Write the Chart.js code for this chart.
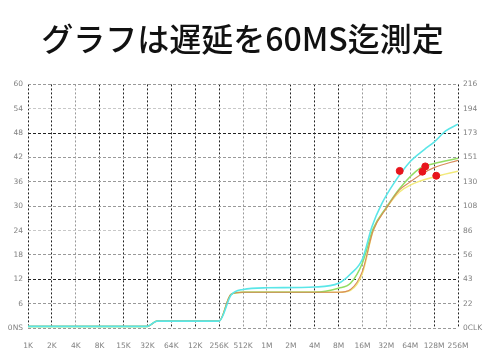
<!DOCTYPE html>
<html>
<head>
<meta charset="utf-8">
<script src="https://cdn.jsdelivr.net/npm/chart.js@4"></script>
<style>
  html, body { margin: 0; padding: 0; background: #fff; }
  #wrap { width: 485px; height: 362px; }
</style>
</head>
<body>
<div id="wrap"><canvas id="latencyChart" width="485" height="362"></canvas></div>
<script>
// x positions are log2 steps from 1K (0) to 256M (18)
const xLabels = ['1K','2K','4K','8K','15K','32K','64K','12K','256K','512K','1M','2M','4M','8M','16M','32M','64M','128M','256M'];
const leftLabels = ['0NS','6','12','18','24','30','36','42','48','54','60'];
const rightLabels = ['0CLK','22','43','56','86','108','130','151','173','194','216'];

const baseX = [0, 5, 5.4, 8];
const baseY = [0.4, 0.4, 1.7, 1.7];

const cyanX = [8.5, 9, 10, 12, 13, 13.5, 14, 14.4, 14.8, 15.3, 16, 16.6, 17, 17.5, 18];
const cyanY = [8.1, 9.5, 9.9, 10.1, 11, 13.3, 17, 25, 30.5, 35.5, 41, 44, 45.8, 48.6, 50.2];

const greenX = [8.5, 9, 12, 13, 13.5, 14, 14.45, 15, 15.55, 16.4, 17, 18];
const greenY = [8.3, 8.8, 8.8, 9.8, 11, 16, 24.5, 29.7, 34.3, 39.3, 40.5, 41.8];

const brownX = [8.5, 9, 12, 13, 13.5, 14, 14.45, 15, 15.55, 16, 16.5, 17, 18];
const brownY = [8.3, 8.8, 8.8, 8.8, 9.5, 14, 24, 29.5, 34, 36, 38, 39.5, 41.3];

const yellowX = [8.5, 9, 12, 13, 13.5, 14, 14.45, 15, 15.55, 16, 17, 18];
const yellowY = [8.3, 8.8, 8.8, 8.8, 9.3, 13.5, 24, 29.5, 33.5, 35.2, 37.2, 38.6];

const dotX = [15.56, 16.51, 16.63, 17.09];
const dotY = [38.7, 38.5, 39.8, 37.5];

function pts(xs, ys, withBase) {
    const all = [];
    if (withBase) baseX.forEach((x, i) => all.push({x: x, y: baseY[i]}));
    xs.forEach((x, i) => all.push({x: x, y: ys[i]}));
    return all;
}

const darkCols = [0,1,3,4,5,6,7,8,11,12,13,17,18];
const darkRows = [2,8];
const lightRows = [4,9];

function lineSet(label, data, color, width) {
    return {
        type: 'line', label: label, data: data,
        borderColor: color, borderWidth: width,
        pointRadius: 0, fill: false,
        cubicInterpolationMode: 'monotone'
    };
}

// first dataset ends up drawn on top
const ctx = document.getElementById('latencyChart').getContext('2d');
new Chart(ctx, {
    type: 'line',
    data: {
        datasets: [
            {
                type: 'scatter', label: 'points',
                data: pts(dotX, dotY, false),
                backgroundColor: '#e8141c', borderColor: '#e8141c',
                pointRadius: 3.5
            },
            lineSet('cyan', pts(cyanX, cyanY, true), '#5ae6e8', 1.6),
            lineSet('brown', pts(brownX, brownY, true), '#d88a5a', 1.1),
            lineSet('green', pts(greenX, greenY, true), '#92dc62', 1.5),
            lineSet('yellow', pts(yellowX, yellowY, true), '#f2ea7a', 1.5)
        ]
    },
    options: {
        responsive: false,
        animation: false,
        layout: { padding: 0 },
        plugins: {
            legend: { display: false },
            tooltip: { enabled: false },
            title: {
                display: true,
                text: 'グラフは遅延を60MS迄測定',
                color: '#111',
                font: { family: 'Noto Sans CJK JP', size: 32, weight: '500' },
                padding: { top: 20, bottom: 26 }
            }
        },
        scales: {
            x: {
                type: 'linear', min: 0, max: 18,
                afterFit: s => { s.height = 34; },
                ticks: {
                    stepSize: 1, autoSkip: false, maxRotation: 0,
                    color: '#808080', font: { family: 'DejaVu Sans', size: 7.5 }, padding: 14,
                    callback: v => xLabels[v] ?? ''
                },
                grid: {
                    drawTicks: false,
                    color: c => darkCols.includes(c.index) ? '#222' : '#999'
                },
                border: { display: false, dash: [2, 2] }
            },
            y: {
                type: 'linear', position: 'left', min: 0, max: 60,
                afterFit: s => { s.width = 28; },
                ticks: {
                    stepSize: 6, color: '#808080', font: { family: 'DejaVu Sans', size: 7.5 }, padding: 5,
                    callback: (v, i) => leftLabels[i]
                },
                grid: {
                    drawTicks: false,
                    color: c => darkRows.includes(c.index) ? '#222' : (lightRows.includes(c.index) ? '#c8c8c8' : '#999')
                },
                border: { display: false, dash: [3, 2] }
            },
            y2: {
                type: 'linear', position: 'right', min: 0, max: 60,
                afterFit: s => { s.width = 27; },
                ticks: {
                    stepSize: 6, color: '#808080', font: { family: 'DejaVu Sans', size: 7.5 }, padding: 5,
                    callback: (v, i) => rightLabels[i]
                },
                grid: { drawOnChartArea: false, drawTicks: false },
                border: { display: false }
            }
        }
    }
});
</script>
</body>
</html>
